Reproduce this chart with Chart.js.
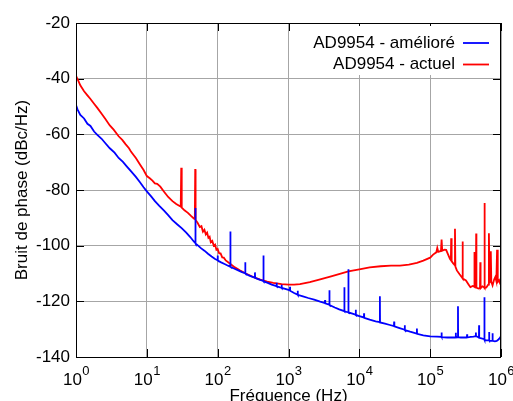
<!DOCTYPE html>
<html>
<head>
<meta charset="utf-8">
<script src="https://cdn.jsdelivr.net/npm/chart.js@4.4.1/dist/chart.umd.min.js"></script>
<style>
  html, body { margin: 0; padding: 0; background: #fff; }
  #wrap { width: 513px; height: 401px; }
</style>
</head>
<body>
<div id="wrap"><canvas id="noiseChart" width="513" height="401"></canvas></div>
<script>
// ============================================================
// Bruit de phase — AD9954 amélioré vs actuel
// ============================================================

const FONT = '"Liberation Sans", Arial, sans-serif';

const decades     = [1, 10, 100, 1e3, 1e4, 1e5, 1e6];
const dbTicks     = [-140, -120, -100, -80, -60, -40, -20];
const seriesNames = ['AD9954 - amélioré', 'AD9954 - actuel'];
const seriesColor = ['#0000ff', '#ff0000'];

// AD9954 - amélioré (blue)
const blueFreq = [
  1, 1.05, 1.15, 1.3, 1.45, 1.6, 1.8, 2, 2.3, 2.6, 3, 3.5, 4, 4.6, 5.2, 6, 7, 8, 9, 10,
  11.5, 13, 15, 17.5, 20, 23, 27, 31, 36, 41, 46, 48.2, 48.5, 48.8, 52, 58, 65, 73, 82, 92,
  99.4, 100, 100.6, 110, 125, 140, 150, 151, 152, 170, 195, 220, 243.5, 245, 246.5, 275, 310,
  334, 336, 338, 380, 430, 441, 443, 445, 500, 580, 676, 680, 684, 760, 796, 800, 804, 900,
  1000, 1046, 1050, 1054, 1200, 1345, 1350, 1355, 1600, 1900, 2300, 2800, 3260, 3280, 3300,
  3760, 3780, 3800, 4500, 5200, 6100, 6140, 6180, 6600, 6950, 7000, 7050, 8000, 8850, 8900,
  8950, 10000, 11600, 11650, 11700, 14000, 17000, 19400, 19500, 19600, 23000, 27000, 30800,
  31000, 31200, 37000, 43600, 43800, 44000, 52000, 64700, 65000, 65300, 80000, 100000,
  125000, 144500, 145000, 145500, 175000, 200000, 229000, 230000, 231000, 246000, 247000,
  248000, 270000, 300000, 330000, 332000, 334000, 370000, 410000, 440000, 442000, 444000,
  470000, 488000, 490000, 492000, 530000, 580000, 583000, 586000, 620000, 677000, 680000,
  683000, 720000, 757000, 760000, 763000, 820000, 870000, 920000, 960000, 1000000,
];
const blueDb = [
  -49.5, -51, -53, -54.3, -56.2, -57, -59, -60.2, -61.6, -63.2, -65, -66.6, -68.5, -69.9, -71.5, -73.3, -75.3, -77.2, -79, -80.5,
  -82.3, -84, -85.7, -87.4, -89, -90.8, -92.4, -93.7, -95.3, -96.9, -98.5, -99, -86.5, -99.2, -99.8, -100.9, -101.8, -102.9, -103.9, -104.8,
  -105.2, -103.5, -105.3, -105.9, -106.6, -107.2, -107.5, -94.9, -107.6, -108.2, -108.9, -109.5, -109.9, -106, -110, -110.7, -111.2,
  -111.5, -109.6, -111.6, -112.1, -112.6, -112.7, -103.5, -112.8, -113.3, -114, -114.5, -113.3, -114.6, -115, -115.1, -114, -115.2, -115.5,
  -115.9, -116.1, -114.8, -116.2, -117, -117.6, -116.2, -117.7, -118.2, -118.8, -119.4, -120.1, -120.6, -119.5, -120.7,
  -121.2, -116, -121.3, -122.2, -122.9, -123.5, -114.9, -123.6, -123.8, -123.9, -108.5, -124, -124.4, -124.8, -123,
  -124.9, -125.3, -125.8, -124.3, -125.9, -126.6, -127.2, -127.5, -118.2, -127.6, -128, -128.5, -128.9,
  -127.3, -129, -129.6, -130.2, -128.6, -130.3, -130.9, -131.6, -129.8, -131.7, -132.2, -132.6,
  -132.7, -132.8, -131.2, -132.9, -133, -133, -133, -131.3, -133, -132.9, -121.8,
  -132.9, -133, -133, -133, -131.8, -133, -132.8, -132.7, -132.5, -131.2, -132.5,
  -132.8, -133, -128.6, -133.1, -133.3, -133.6, -118.5, -133.8, -134, -134, -131,
  -134.1, -134.2, -134.2, -131.5, -134.2, -134.4, -134.2, -133.7, -133.2, -132.5,
];

// AD9954 - actuel (red)
const redFreq = [
  1, 1.08, 1.15, 1.3, 1.45, 1.6, 1.8, 2, 2.3, 2.6, 3, 3.4, 4, 4.5, 5, 5.6, 6, 7, 8, 9, 10,
  11, 12, 13, 14, 15.5, 17.5, 20, 23, 26, 29.4, 30.1, 30.6, 31.1, 34, 38, 42, 46, 47.6, 48.2,
  48.8, 52, 56, 59, 62, 65, 68, 71, 74, 77, 80, 84, 88, 92, 96, 100, 105, 110, 116, 122, 130,
  150, 175, 208, 250, 287, 340, 400, 500, 610, 800, 1000, 1200, 1450, 2000, 2800, 4000, 5300,
  7000, 10000, 14000, 20000, 28000, 37500, 50000, 65000, 80000, 100000, 110000, 122000,
  126000, 130000, 142000, 145000, 148000, 160000, 168000, 180000, 190000, 196000, 198000,
  201000, 210000, 222000, 224000, 227000, 238000, 260000, 283000, 286000, 290000, 320000,
  350000, 370000, 400000, 418000, 421000, 424000, 442000, 446000, 450000, 480000, 505000,
  510000, 515000, 545000, 580000, 585000, 590000, 620000, 660000, 675000, 690000, 705000,
  718000, 730000, 760000, 800000, 830000, 860000, 880000, 900000, 940000, 970000, 1000000,
];
const redDb = [
  -39, -40.8, -42.4, -44.5, -46, -47.3, -49, -50.5, -52.6, -54.5, -56.8, -58.3, -60.7, -62, -63.5, -65, -66.3, -68.5, -70.8, -72.8, -75,
  -75.8, -76.6, -77.6, -77.8, -78.8, -80.6, -82.5, -84, -85, -85.8, -86, -72, -86.3, -87.3, -88.2, -89.3, -90.2, -90.4, -72.5,
  -90.8, -91.8, -93.3, -93, -95, -94.3, -96, -95.3, -97.2, -96.8, -98.8, -98.3, -100, -99.6, -101.5, -101.2, -102.8, -102.8, -104.2, -104.3, -105.3,
  -106.5, -107.8, -108.9, -110, -110.7, -111.6, -112.2, -112.9, -113.4, -113.8, -114, -114, -113.8, -113.1, -112.1, -111, -110.1,
  -109.2, -108.5, -107.8, -107.4, -107.2, -107.2, -106.8, -106.2, -105.4, -104.3, -103.2, -102.4,
  -100.8, -102.2, -101.9, -97.8, -101.8, -101.4, -101.5, -103.3, -104.7, -105.2, -97.3,
  -105.5, -106.3, -107, -93.9, -107.5, -108.9, -110.3, -111.5, -98.5, -111.8, -112.5,
  -114, -114.9, -114.5, -114.7, -102.3, -114.8, -115, -95.6, -115.1, -115.4, -115.2,
  -106, -115.3, -114.6, -115, -84.7, -115.2, -115, -114, -95.5, -113.5, -110.5,
  -102, -113, -114.3, -112.2, -111.3, -112.8, -101.5, -113, -112.4, -113.6, -114.3,
];

const toPoints = (fs, dbs) => fs.map((f, i) => ({ x: f, y: dbs[i] }));

const supers = ['0', '1', '2', '3', '4', '5', '6'];

const framePlugin = {
  id: 'frame',
  beforeDatasetsDraw(chart) {
    const { ctx, chartArea: a, scales: { x, y } } = chart;
    ctx.save();
    // inner tick marks on all four sides
    ctx.strokeStyle = '#000';
    ctx.lineWidth = 1;
    ctx.beginPath();
    decades.forEach(v => {
      const px = Math.round(x.getPixelForValue(v)) + 0.5;
      ctx.moveTo(px, a.bottom); ctx.lineTo(px, a.bottom - 8);
      ctx.moveTo(px, a.top);    ctx.lineTo(px, a.top + 8);
    });
    dbTicks.forEach(v => {
      const py = Math.round(y.getPixelForValue(v)) + 0.5;
      ctx.moveTo(a.left, py);  ctx.lineTo(a.left + 8, py);
      ctx.moveTo(a.right, py); ctx.lineTo(a.right - 8, py);
    });
    ctx.stroke();

    // key box (hides the grid behind it)
    ctx.fillStyle = '#fff';
    ctx.fillRect(a.right - 200, a.top + 3, 198, 49);
    ctx.font = '17px ' + FONT;
    ctx.textAlign = 'right';
    ctx.textBaseline = 'middle';
    seriesNames.forEach((name, i) => {
      const ry = a.top + 20 + i * 21.5;
      ctx.fillStyle = '#000';
      ctx.fillText(name, a.right - 46, ry);
      ctx.strokeStyle = seriesColor[i];
      ctx.lineWidth = 1.8;
      ctx.beginPath();
      ctx.moveTo(a.right - 38, ry);
      ctx.lineTo(a.right - 12, ry);
      ctx.stroke();
    });
    ctx.restore();
  },
  afterDraw(chart) {
    const { ctx, chartArea: a, scales: { x } } = chart;
    ctx.save();
    // plot border
    ctx.strokeStyle = '#000';
    ctx.lineWidth = 1;
    ctx.strokeRect(Math.round(a.left) + 0.5, Math.round(a.top) + 0.5,
                   Math.round(a.right - a.left) - 1, Math.round(a.bottom - a.top));

    // x tick labels: 10 with raised exponent
    ctx.fillStyle = '#000';
    ctx.textAlign = 'left';
    ctx.textBaseline = 'alphabetic';
    decades.forEach((v, i) => {
      const px = x.getPixelForValue(v);
      ctx.font = '17px ' + FONT;
      const w1 = ctx.measureText('10').width;
      ctx.font = '13px ' + FONT;
      const w2 = ctx.measureText(supers[i]).width;
      const x0 = px - (w1 + w2) / 2;
      ctx.font = '17px ' + FONT;
      ctx.fillText('10', x0, a.bottom + 28);
      ctx.font = '13px ' + FONT;
      ctx.fillText(supers[i], x0 + w1 + 0.5, a.bottom + 18);
    });

    // x axis title
    ctx.font = '17px ' + FONT;
    ctx.textAlign = 'center';
    ctx.fillText('Fréquence (Hz)', (a.left + a.right) / 2, a.bottom + 44);
    ctx.restore();
  }
};

new Chart(document.getElementById('noiseChart'), {
  type: 'line',
  data: {
    datasets: [
      { label: seriesNames[0], data: toPoints(blueFreq, blueDb), borderColor: seriesColor[0],
        borderWidth: 1.8, pointRadius: 0, tension: 0, fill: false },
      { label: seriesNames[1], data: toPoints(redFreq, redDb), borderColor: seriesColor[1],
        borderWidth: 1.8, pointRadius: 0, tension: 0, fill: false },
    ]
  },
  options: {
    responsive: false,
    animation: false,
    layout: { padding: { top: 23, right: 12, bottom: 0, left: 0 } },
    plugins: { legend: { display: false }, tooltip: { enabled: false } },
    scales: {
      x: {
        type: 'logarithmic', min: 1, max: 1e6,
        afterBuildTicks: s => { s.ticks = decades.map(v => ({ value: v })); },
        ticks: { display: false },
        grid: { color: '#a6a6a6', lineWidth: 1, drawTicks: false },
        border: { display: false },
        afterFit: s => { s.height = 44; }
      },
      y: {
        min: -140, max: -20,
        afterBuildTicks: s => { s.ticks = dbTicks.map(v => ({ value: v })); },
        ticks: { font: { family: FONT, size: 17 }, color: '#000', padding: 6 },
        grid: { color: '#a6a6a6', lineWidth: 1, drawTicks: false },
        border: { display: false },
        title: { display: true, text: 'Bruit de phase (dBc/Hz)', color: '#000',
                 font: { family: FONT, size: 17 }, padding: { top: 12, bottom: 0 } },
        afterFit: s => { s.width = 76; }
      }
    }
  },
  plugins: [framePlugin]
});
</script>
</body>
</html>
